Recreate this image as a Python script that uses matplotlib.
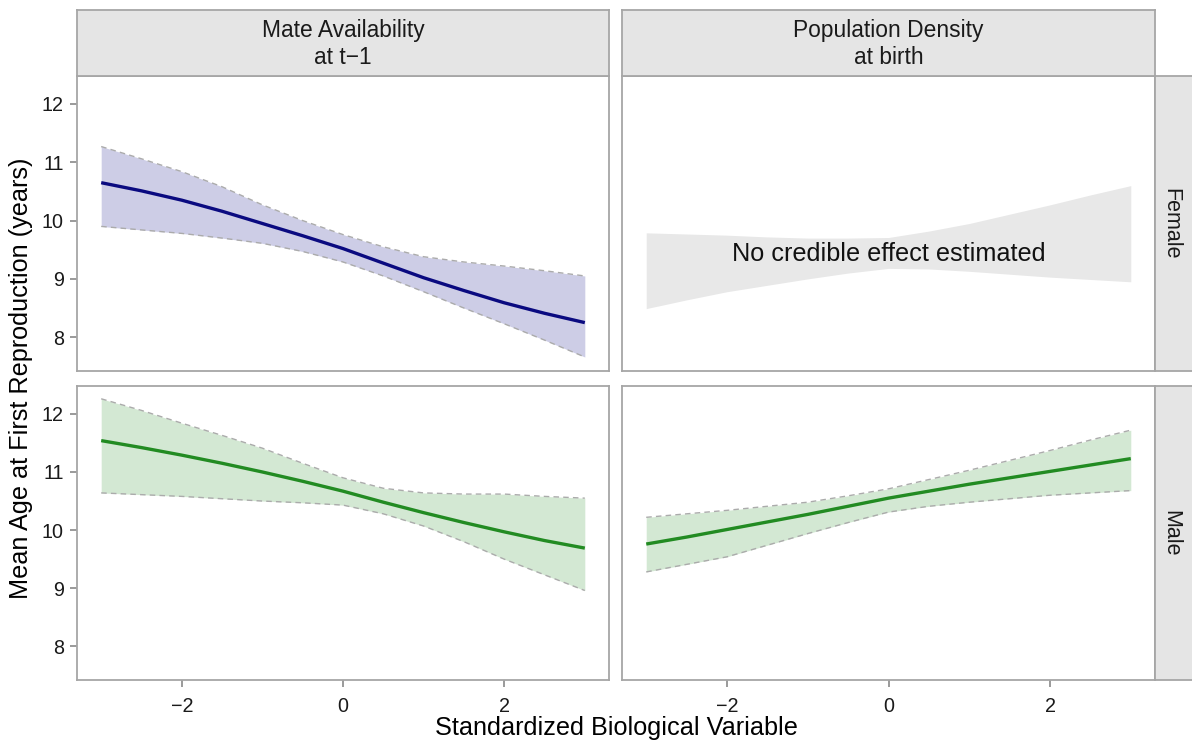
import matplotlib
matplotlib.use("Agg")
import matplotlib.pyplot as plt
import numpy as np

plt.rcParams['font.family'] = ['Liberation Sans', 'DejaVu Sans']

# ---- data ----
x_vals = [-3, -2.5, -2, -1.5, -1, -0.5, 0, 0.5, 1, 1.5, 2, 2.5, 3]

fem_mate_mean = [10.65, 10.51, 10.35, 10.16, 9.95, 9.74, 9.52, 9.27, 9.02, 8.80, 8.59, 8.41, 8.25]
fem_mate_upper = [11.27, 11.06, 10.84, 10.58, 10.27, 10.00, 9.76, 9.55, 9.38, 9.29, 9.22, 9.14, 9.05]
fem_mate_lower = [9.90, 9.84, 9.78, 9.70, 9.61, 9.47, 9.29, 9.05, 8.78, 8.50, 8.23, 7.95, 7.66]

male_mate_mean = [11.54, 11.42, 11.29, 11.15, 11.00, 10.84, 10.67, 10.48, 10.30, 10.13, 9.97, 9.82, 9.69]
male_mate_upper = [12.26, 12.06, 11.84, 11.63, 11.41, 11.15, 10.90, 10.72, 10.64, 10.62, 10.62, 10.58, 10.55]
male_mate_lower = [10.64, 10.61, 10.58, 10.54, 10.50, 10.47, 10.43, 10.28, 10.07, 9.80, 9.50, 9.23, 8.96]

fem_dens_upper = [9.79, 9.77, 9.75, 9.72, 9.70, 9.70, 9.71, 9.82, 9.95, 10.11, 10.27, 10.44, 10.60]
fem_dens_lower = [8.49, 8.64, 8.78, 8.89, 9.00, 9.10, 9.18, 9.17, 9.13, 9.08, 9.03, 8.99, 8.95]

male_dens_mean = [9.76, 9.88, 10.01, 10.14, 10.27, 10.41, 10.55, 10.67, 10.79, 10.90, 11.01, 11.12, 11.23]
male_dens_upper = [10.22, 10.28, 10.34, 10.41, 10.48, 10.59, 10.71, 10.87, 11.03, 11.20, 11.37, 11.55, 11.72]
male_dens_lower = [9.28, 9.41, 9.54, 9.74, 9.94, 10.13, 10.31, 10.41, 10.48, 10.54, 10.60, 10.64, 10.68]

col_titles = ["Mate Availability\nat t\u22121", "Population Density\nat birth"]
row_titles = ["Female", "Male"]
x_ticks = [-2, 0, 2]
x_tick_labels = ["\u22122", "0", "2"]
y_ticks = [8, 9, 10, 11, 12]
annotation = "No credible effect estimated"

# ---- layout ----
W, H = 1192, 742
fig = plt.figure(figsize=(W / 100, H / 100), dpi=100)

def px(l, t, r, b):
    return [l / W, 1 - b / H, (r - l) / W, (b - t) / H]

BORDER = "#A6A6A6"
STRIP = "#E5E5E5"
TXT = "#1A1A1A"

cols = [(77, 609), (622, 1155)]
rows = [(76, 371), (386, 680)]

axes = {}
for ri, (t, b) in enumerate(rows):
    for ci, (l, r) in enumerate(cols):
        ax = fig.add_axes(px(l, t, r, b))
        ax.set_xlim(-3.3, 3.3)
        ax.set_ylim(7.42, 12.48)
        for s in ax.spines.values():
            s.set_color(BORDER)
            s.set_linewidth(1.3)
        ax.set_xticks(x_ticks)
        ax.set_yticks(y_ticks)
        ax.set_xticklabels(x_tick_labels)
        ax.tick_params(length=5, width=1.1, color="#7F7F7F", labelsize=14.2,
                       labelcolor=TXT)
        ax.tick_params(axis="x", pad=7)
        ax.tick_params(axis="y", pad=4.5)
        if ri == 0:
            ax.tick_params(axis="x", length=0, labelbottom=False)
        if ci == 1:
            ax.tick_params(axis="y", length=0, labelleft=False)
        axes[(ri, ci)] = ax

band_kw = dict(color="#ABABAB", lw=1.0, ls=(0, (4, 3)))

# Female x Mate
ax = axes[(0, 0)]
ax.fill_between(x_vals, fem_mate_lower, fem_mate_upper, color="#CDCDE6", lw=0)
ax.plot(x_vals, fem_mate_upper, **band_kw)
ax.plot(x_vals, fem_mate_lower, **band_kw)
ax.plot(x_vals, fem_mate_mean, color="#0A0A80", lw=2.4, solid_capstyle="butt")

# Female x Density
ax = axes[(0, 1)]
ax.fill_between(x_vals, fem_dens_lower, fem_dens_upper, color="#E8E8E8", lw=0)
ax.text(0.0, 9.42, annotation, ha="center", va="center", fontsize=18.2, color="#111111")

# Male x Mate
ax = axes[(1, 0)]
ax.fill_between(x_vals, male_mate_lower, male_mate_upper, color="#D3E8D3", lw=0)
ax.plot(x_vals, male_mate_upper, **band_kw)
ax.plot(x_vals, male_mate_lower, **band_kw)
ax.plot(x_vals, male_mate_mean, color="#228B22", lw=2.4, solid_capstyle="butt")

# Male x Density
ax = axes[(1, 1)]
ax.fill_between(x_vals, male_dens_lower, male_dens_upper, color="#D3E8D3", lw=0)
ax.plot(x_vals, male_dens_upper, **band_kw)
ax.plot(x_vals, male_dens_lower, **band_kw)
ax.plot(x_vals, male_dens_mean, color="#228B22", lw=2.4, solid_capstyle="butt")

# ---- strips ----
for ci, (l, r) in enumerate(cols):
    sax = fig.add_axes(px(l, 10, r, 76))
    sax.set_facecolor(STRIP)
    sax.set_xticks([]); sax.set_yticks([])
    for s in sax.spines.values():
        s.set_color(BORDER); s.set_linewidth(1.3)
    sax.text(0.5, 0.48, col_titles[ci], ha="center", va="center", fontsize=16.4,
             color=TXT, linespacing=1.22, transform=sax.transAxes)

for ri, (t, b) in enumerate(rows):
    sax = fig.add_axes(px(1155, t, 1194, b))
    sax.set_facecolor(STRIP)
    sax.set_xticks([]); sax.set_yticks([])
    for s in sax.spines.values():
        s.set_color(BORDER); s.set_linewidth(1.3)
    sax.text(0.4, 0.5, row_titles[ri], ha="center", va="center", fontsize=15.5,
             color=TXT, rotation=-90, transform=sax.transAxes)

# ---- axis titles ----
fig.text(616 / W, 1 - 728 / H, "Standardized Biological Variable", ha="center",
         va="center", fontsize=18.2, color="black")
fig.text(21 / W, 1 - 378 / H, "Mean Age at First Reproduction (years)", ha="center",
         va="center", fontsize=18.2, rotation=90, color="black")

fig.savefig("out.png", dpi=100)
